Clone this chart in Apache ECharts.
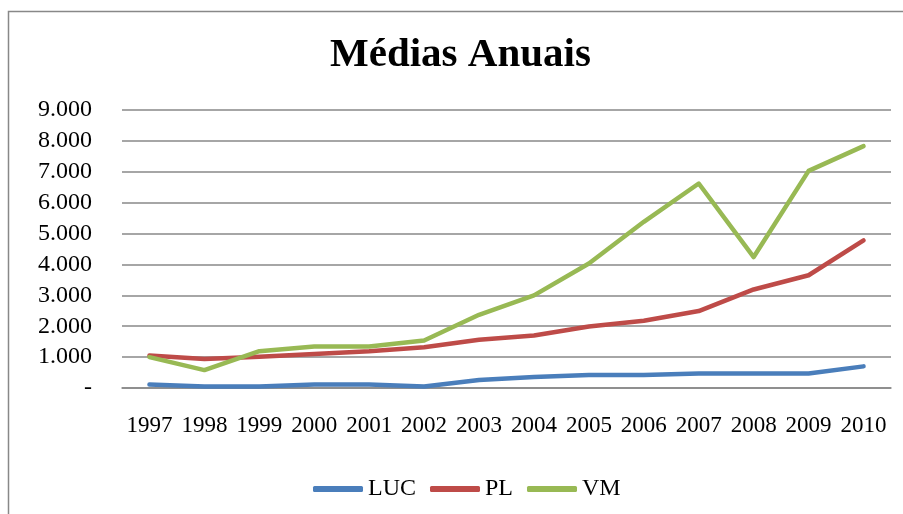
<!DOCTYPE html>
<html>
<head>
<meta charset="utf-8">
<title>Médias Anuais</title>
<script src="https://cdn.jsdelivr.net/npm/echarts@6/dist/echarts.min.js"></script>
<style>
	html, body {
		margin: 0;
		padding: 0;
		background: #fff;
	}
	#medias-anuais {
		width: 903px;
		height: 514px;
	}
</style>
</head>
<body>
<div id="medias-anuais"></div>
<script>
	var years = ['1997', '1998', '1999', '2000', '2001', '2002', '2003', '2004', '2005', '2006', '2007', '2008', '2009', '2010'];
	var luc = [110, 50, 50, 110, 110, 50, 260, 360, 420, 420, 470, 470, 470, 700];
	var pl = [1050, 940, 1010, 1100, 1190, 1320, 1560, 1700, 1990, 2180, 2490, 3190, 3650, 4780];
	var vm = [1000, 580, 1190, 1340, 1340, 1540, 2370, 3000, 4030, 5380, 6620, 4240, 7030, 7830];
	var seriesNames = ['LUC', 'PL', 'VM'];
	var colors = ['#4A7EBB', '#BE4B48', '#98B954'];

	var serif = 'Liberation Serif, Times New Roman, serif';

	function fmtThousands(v) {
		if(v === 0) {
			return '-';
		}
		return String(v).replace(/\B(?=(\d{3})+(?!\d))/g, '.');
	}

	function makeLine(name, data) {
		return {
			name: name,
			type: 'line',
			smooth: false,
			symbol: 'none',
			lineStyle: {
				width: 4.5,
				cap: 'round',
				join: 'round'
			},
			data: data
		};
	}

	var chart = echarts.init(document.getElementById('medias-anuais'));
	var option = {
		animation: false,
		color: colors,
		graphic: [{
			type: 'rect',
			shape: { x: 8.5, y: 11.5, width: 1000, height: 1000 },
			style: { fill: 'none', stroke: '#888', lineWidth: 1.5 },
			silent: true
		}],
		title: {
			text: 'Médias Anuais',
			left: 325,
			top: 30,
			textStyle: {
				fontFamily: serif,
				fontSize: 41,
				fontWeight: 'bold',
				color: '#000'
			}
		},
		legend: {
			data: seriesNames,
			left: 308,
			top: 472,
			icon: 'roundRect',
			itemWidth: 50,
			itemHeight: 6,
			itemGap: 14,
			textStyle: {
				fontFamily: serif,
				fontSize: 24,
				color: '#000'
			}
		},
		grid: {
			top: 110,
			left: 122,
			right: 12,
			bottom: 126
		},
		xAxis: [{
			type: 'category',
			boundaryGap: true,
			data: years,
			axisLine: {
				lineStyle: { color: '#888', width: 1.5 }
			},
			axisTick: { show: false },
			axisLabel: {
				interval: 0,
				margin: 26,
				fontFamily: serif,
				fontSize: 23,
				color: '#000'
			}
		}],
		yAxis: [{
			type: 'value',
			min: 0,
			max: 9000,
			interval: 1000,
			axisLine: { show: false },
			axisTick: { show: false },
			splitLine: {
				lineStyle: { color: '#888', width: 1.5 }
			},
			axisLabel: {
				margin: 30,
				fontFamily: serif,
				fontSize: 24,
				color: '#000',
				formatter: fmtThousands
			}
		}],
		series: [
			makeLine('LUC', luc),
			makeLine('PL', pl),
			makeLine('VM', vm)
		]
	};
	chart.setOption(option);
</script>
</body>
</html>
